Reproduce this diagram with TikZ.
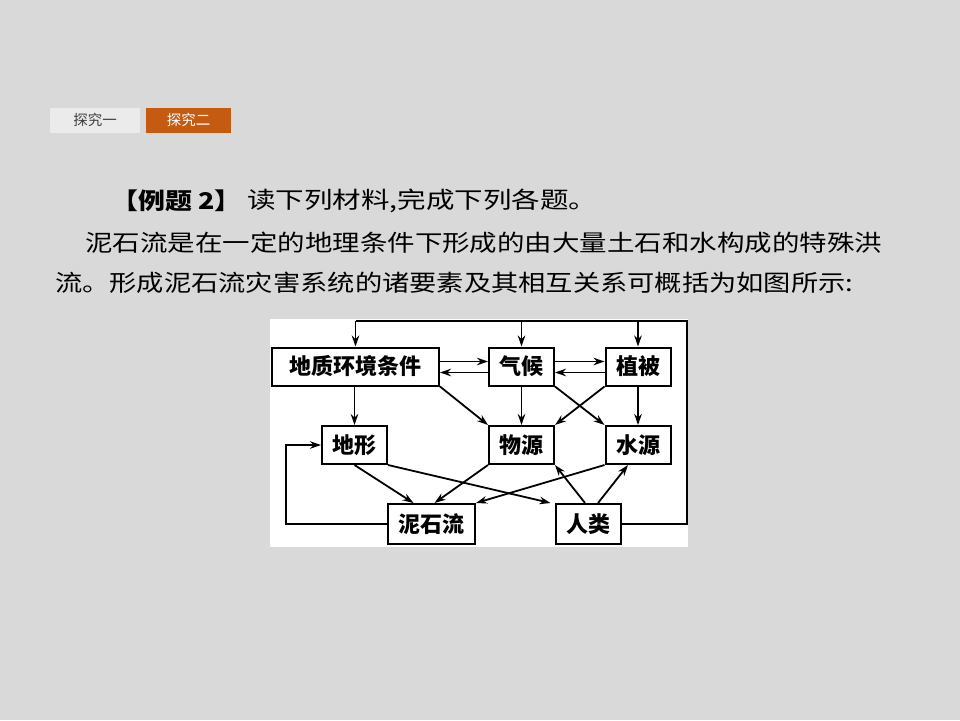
\documentclass[tikz,border=0pt]{standalone}
\usepackage{fontspec}
\setmainfont{Noto Sans CJK SC}
\newfontfamily\cjk{Noto Sans CJK SC}
\usetikzlibrary{arrows.meta}
\definecolor{slidegray}{HTML}{D9D9D9}
\definecolor{tabgray}{HTML}{EBEBEB}
\definecolor{taborange}{HTML}{C55A11}
\definecolor{tabtext}{HTML}{404040}

\begin{document}
\begin{tikzpicture}[x=1pt,y=-1pt,
    box/.style={draw,line width=2pt,inner sep=0pt,minimum height=38pt,
      font=\cjk\bfseries\fontsize{22}{22}\selectfont},
    link/.style={line width=1.8pt,-{Stealth[length=11pt,width=7.5pt]}},
    body/.style={anchor=west,inner sep=0pt,font=\cjk\fontsize{23}{23}\selectfont},
    tab/.style={inner sep=0pt,minimum height=25pt,font=\cjk\fontsize{14.5}{14.5}\selectfont}]
    \pgfmathsetmacro{\sq}{65}   % width of the small boxes
    \fill[slidegray] (0,0) rectangle (960,720);
    % tabs
    \node[tab,fill=tabgray,text=tabtext,minimum width=90pt] (tabone) at (95,120) {探究一};
    \node[tab,fill=taborange,text=white,minimum width=85pt] (tabtwo) at (188.5,120) {探究二};
    % text
    \node[body] (title) at (111,201) {\scalebox{1.17}[1]{\bfseries 【例题 2】}};
    \node[body] (lead) at (247,201) {\scalebox{1.24}[1]{读下列材料,完成下列各题。}};
    \node[body] (lineone) at (85,243) {\scalebox{1.195}[1]{泥石流是在一定的地理条件下形成的由大量土石和水构成的特殊洪}};
    \node[body] (linetwo) at (55,283) {\scalebox{1.185}[1]{流。形成泥石流灾害系统的诸要素及其相互关系可概括为如图所示:}};
    % diagram
    \fill[white] (270,319) rectangle (688,547);
    \node[box,minimum width=167pt] (geo) at (355.5,366.5) {地质环境条件};
    \node[box,minimum width=\sq pt] (climate) at (521.5,366.5) {气候};
    \node[box,minimum width=\sq pt] (veg) at (638,366.5) {植被};
    \node[box,minimum width=\sq pt] (relief) at (354.5,445) {地形};
    \node[box,minimum width=\sq pt] (source) at (521.5,445) {物源};
    \node[box,minimum width=\sq pt] (water) at (638,445) {水源};
    \node[box,minimum width=87pt,minimum height=40pt] (flow) at (431.5,524) {泥石流};
    \node[box,minimum width=\sq pt,minimum height=40pt] (human) at (588,524) {人类};
    \coordinate (topR) at (687,321);
    \coordinate (loopL) at (286,445);
    % feedback loops
    \draw[line width=1.8pt] (human.east) -| (topR) -- (geo.north |- topR);
    \draw[link] (geo.north |- topR) -- (geo.north);
    \draw[link] (climate.north |- topR) -- (climate.north);
    \draw[link] (veg.north |- topR) -- (veg.north);
    \draw[link] (flow.west) -| (loopL) -- (relief.west);
    % top row
    \draw[link] ([yshift=5pt]geo.east) -- ([yshift=5pt]climate.west);
    \draw[link] ([yshift=-6pt]climate.west) -- ([yshift=-6pt]geo.east);
    \draw[link] ([yshift=5pt]climate.east) -- ([yshift=5pt]veg.west);
    \draw[link] ([yshift=-6pt]veg.west) -- ([yshift=-6pt]climate.east);
    % down
    \draw[link] (geo.south -| relief.north) -- (relief.north);
    \draw[link] (climate.south) -- (source.north);
    \draw[link] (veg.south) -- (water.north);
    \draw[link] (geo.south east) -- (source.north west);
    \draw[link] (climate.south east) -- (water.north west);
    \draw[link] (veg.south west) -- (source.north east);
    % bottom
    \draw[link] (relief.south) -- ([xshift=-18pt]flow.north);
    \draw[link] (relief.south east) -- ([xshift=-4pt]human.north west);
    \draw[link] (source.south west) -- ([xshift=3pt]flow.north);
    \draw[link] (water.south west) -- (flow.north east);
    \draw[link] ([xshift=-3pt]human.north) -- (source.south east);
    \draw[link] ([xshift=10pt]human.north) -- ([xshift=-10pt]water.south);
\end{tikzpicture}
\end{document}
